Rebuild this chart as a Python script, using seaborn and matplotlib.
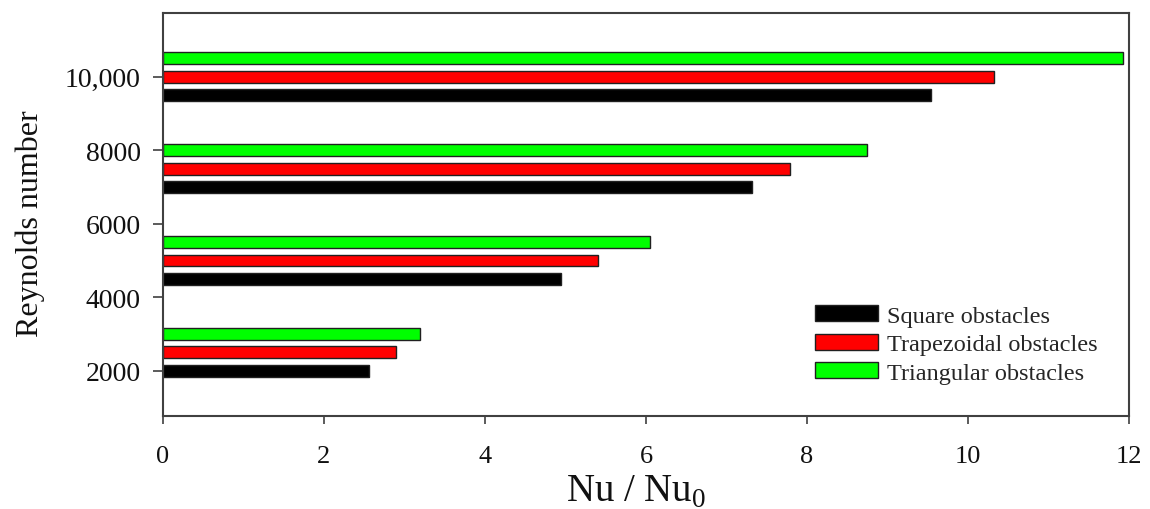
import matplotlib
matplotlib.use("Agg")
import matplotlib.pyplot as plt
import numpy as np
import pandas as pd
import seaborn as sns

# Heat-transfer enhancement for three obstacle shapes
reynolds = [2500, 5000, 7500, 10000]
square = [2.56, 4.94, 7.32, 9.54]
trapezoidal = [2.89, 5.41, 7.79, 10.32]
triangular = [3.19, 6.05, 8.75, 11.92]

series_names = ["Square obstacles", "Trapezoidal obstacles", "Triangular obstacles"]
series_colors = ["#000000", "#ff0000", "#00ff00"]

y_ticks = [2000, 4000, 6000, 8000, 10000]
y_tick_labels = ["2000", "4000", "6000", "8000", "10,000"]
x_ticks = [0, 2, 4, 6, 8, 10, 12]

df = pd.DataFrame({
    "Re": reynolds * 3,
    "Nu": square + trapezoidal + triangular,
    "Obstacle": np.repeat(series_names, len(reynolds)),
})

sns.set_theme(style="ticks")
plt.rcParams["font.family"] = ["Liberation Serif", "DejaVu Serif"]
plt.rcParams["mathtext.fontset"] = "custom"
plt.rcParams["mathtext.rm"] = "Liberation Serif"

fig = plt.figure(figsize=(11.5, 5.1), dpi=100)
ax = fig.add_axes([0.1417, 0.1824, 0.84, 0.79])

sns.barplot(
    data=df, x="Nu", y="Re", hue="Obstacle", hue_order=series_names,
    palette=series_colors, saturation=1, orient="h", native_scale=True,
    dodge=True, width=0.6, gap=0.35, edgecolor="#202020", linewidth=1.0,
    errorbar=None, ax=ax,
)

ax.set_xlim(0, 12)
ax.set_ylim(770, 11730)
ax.set_xticks(x_ticks)
ax.set_xticklabels([str(t) for t in x_ticks])
ax.set_yticks(y_ticks)
ax.set_yticklabels(y_tick_labels)

for side in ["left", "right", "top", "bottom"]:
    ax.spines[side].set_visible(True)
    ax.spines[side].set_color("#404040")
    ax.spines[side].set_linewidth(1.5)

ax.tick_params(axis="y", direction="out", length=7, width=1.2, color="#404040",
               labelsize=20, pad=9, labelcolor="#111111")
ax.tick_params(axis="x", direction="out", length=6, width=1.2, color="#404040",
               labelsize=19, pad=15, labelcolor="#111111")

ax.set_xlabel(r"Nu / Nu$_{\mathregular{0}}$", fontsize=28, labelpad=4, color="#111111")
ax.xaxis.label.set_x(0.49)
ax.set_ylabel("Reynolds number", fontsize=23, labelpad=14, color="#111111")
ax.yaxis.label.set_y(0.48)

sns.move_legend(
    ax, loc="upper left", bbox_to_anchor=(0.675, 0.275), frameon=False,
    title=None, fontsize=17.5, handlelength=2.6, handleheight=0.65,
    handletextpad=0.35, labelspacing=0.28, borderpad=0, borderaxespad=0,
)

fig.savefig("out.png", dpi=100)
